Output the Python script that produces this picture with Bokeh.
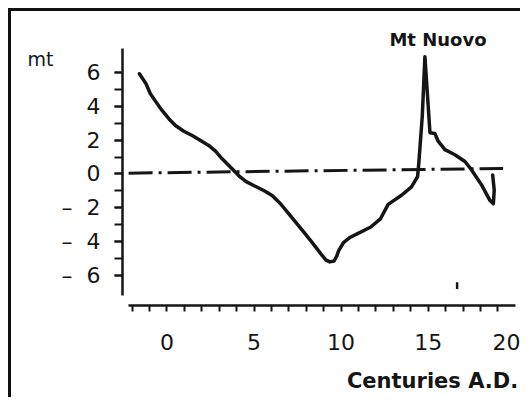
from bokeh.plotting import figure
from bokeh.models import FixedTicker, Label, Range1d, LinearAxis
from bokeh.embed import file_html
from bokeh.resources import INLINE

# --- data ---
century = [-1.58, -1.20, -0.95, -0.66, -0.28, 0.11, 0.49, 0.97, 1.45, 1.93, 2.40,
           2.79, 3.17, 3.74, 4.22, 4.55, 4.98, 5.56, 6.04, 6.52, 7.0, 7.47, 7.86,
           8.24, 8.62, 8.91, 9.12, 9.35, 9.6, 9.75, 9.86, 10.15, 10.53, 10.92,
           11.68, 12.26, 12.7, 13.47, 14.04, 14.39, 14.46, 14.66, 14.81, 14.96,
           15.10, 15.38, 15.57, 15.96, 16.53, 17.11, 17.49, 18.07, 18.54, 18.74,
           18.79, 18.7]
level_mt = [5.93, 5.34, 4.75, 4.31, 3.76, 3.27, 2.87, 2.53, 2.28, 1.98, 1.69,
            1.35, 0.9, 0.31, -0.19, -0.45, -0.68, -0.98, -1.27, -1.76, -2.36, -2.95, -3.44,
            -3.93, -4.43, -4.82, -5.08, -5.2, -5.15, -4.85, -4.53, -4.04, -3.74, -3.54,
            -3.15, -2.65, -1.8, -1.26, -0.76, -0.16, 0.64, 3.44, 6.94, 4.64,
            2.44, 2.40, 1.94, 1.44, 1.14, 0.74, 0.24, -0.66, -1.56, -1.76,
            -0.96, -0.06]

ref_x = [-2.2, 19.3]
ref_y = [0.05, 0.33]

mark_x = [16.66]
mark_y0 = [-6.4]
mark_y1 = [-6.8]

xtick_vals = [0, 5, 10, 15, 20]
xtick_labels = ["0", "5", "10", "15", "20"]
xminor_vals = list(range(-2, 20))
ytick_vals = [-6, -4, -2, 0, 2, 4, 6]
ytick_labels = ["–\u20076", "–\u20074", "–\u20072", "0", "2", "4", "6"]
yminor_vals = list(range(-6, 7))

x_title = "Centuries A.D."
y_title = "mt"
event_title = "Mt Nuovo"
x_title_at = 15.25
y_title_at = 6.83

INK = "#151515"

p = figure(width=512, height=389, output_backend="svg", toolbar_location=None,
           x_range=Range1d(-2.55, 20.47), y_range=Range1d(-7.78, 9.08),
           min_border_left=111, min_border_right=0, min_border_top=9,
           min_border_bottom=95)
p.grid.visible = False
p.outline_line_color = None
p.border_fill_color = "white"
p.background_fill_color = "white"
p.styles = {"margin-left": "8px", "margin-top": "8px",
            "border-top": "3px solid #111", "border-left": "3px solid #111"}

# y axis
ya = p.yaxis[0]
ya.ticker = FixedTicker(ticks=ytick_vals, minor_ticks=yminor_vals)
ya.major_label_overrides = dict(zip(ytick_vals, ytick_labels))
ya.bounds = (-7.2, 7.4)
ya.axis_line_width = 2.5
ya.axis_line_color = INK
ya.major_tick_line_width = 2
ya.minor_tick_line_width = 2
ya.major_tick_line_color = INK
ya.minor_tick_line_color = INK
ya.major_tick_out = 8
ya.major_tick_in = 0
ya.minor_tick_out = 8
ya.minor_tick_in = 0
ya.major_label_standoff = 14
ya.major_label_text_font = "DejaVu Sans"
ya.major_label_text_font_size = "22px"
ya.major_label_text_color = INK

# x axis
xa = p.xaxis[0]
xa.ticker = FixedTicker(ticks=xtick_vals, minor_ticks=xminor_vals)
xa.major_label_overrides = dict(zip(xtick_vals, xtick_labels))
xa.bounds = (-2.2, 20)
xa.axis_line_width = 2.5
xa.axis_line_color = INK
xa.major_tick_out = 0
xa.major_tick_in = 0
xa.minor_tick_out = 6
xa.minor_tick_in = 0
xa.minor_tick_line_width = 2
xa.minor_tick_line_color = INK
xa.major_label_standoff = 22
xa.major_label_text_font = "DejaVu Sans"
xa.major_label_text_font_size = "22px"
xa.major_label_text_color = INK

# title axes (text only)
xt = LinearAxis(ticker=FixedTicker(ticks=[x_title_at], minor_ticks=[]),
                major_label_overrides={x_title_at: x_title},
                axis_line_color=None, major_tick_line_color=None,
                minor_tick_line_color=None, major_tick_out=0, major_tick_in=0,
                major_label_standoff=16,
                major_label_text_font="DejaVu Sans",
                major_label_text_font_size="21px",
                major_label_text_font_style="bold",
                major_label_text_color=INK)
p.add_layout(xt, "below")

yt = LinearAxis(ticker=FixedTicker(ticks=[y_title_at], minor_ticks=[]),
                major_label_overrides={y_title_at: y_title},
                axis_line_color=None, major_tick_line_color=None,
                minor_tick_line_color=None, major_tick_out=0, major_tick_in=0,
                major_label_standoff=5,
                major_label_text_font="DejaVu Sans",
                major_label_text_font_size="19px",
                major_label_text_color=INK)
p.add_layout(yt, "left")

# reference (dash-dot) line
p.line(ref_x, ref_y, line_color=INK, line_width=3, line_dash="24 6 3 6")

# sea-level curve
p.line(century, level_mt, line_color=INK, line_width=3.5, line_join="round",
       line_cap="round")

# small vertical mark near the axis
p.segment(x0=mark_x, y0=mark_y0, x1=mark_x, y1=mark_y1, line_color=INK, line_width=2.5)

p.add_layout(Label(x=15.56, y=7.95, text=event_title, text_font="DejaVu Sans",
                   text_font_size="18px", text_font_style="bold", text_color=INK,
                   text_align="center", text_baseline="alphabetic"))

open("out.html", "w").write(file_html(p, INLINE))
